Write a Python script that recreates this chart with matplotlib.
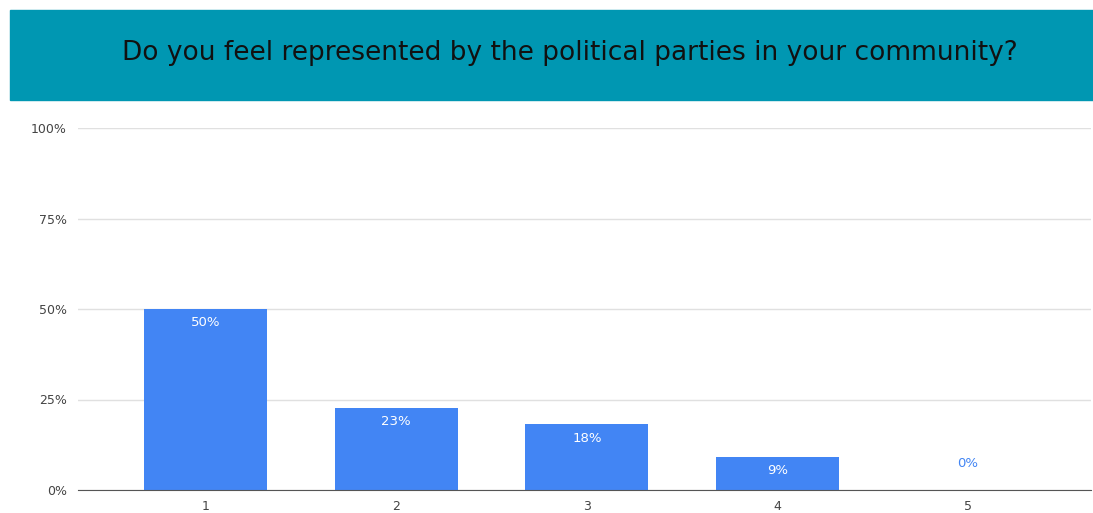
import matplotlib.pyplot as plt
from matplotlib.patches import Rectangle

# survey answers on a 1-5 scale, share of respondents in percent
categories = ['1', '2', '3', '4', '5']
shares = [50.0, 22.7, 18.2, 9.1, 0.0]
labels = ['50%', '23%', '18%', '9%', '0%']
yticks = [0, 25, 50, 75, 100]
title = 'Do you feel represented by the political parties in your community?'

W, H = 1093, 513
fig = plt.figure(figsize=(W / 100, H / 100), dpi=100)

# teal banner with the question
fig.patches.append(Rectangle((10 / W, 1 - 100 / H), 1 - 10 / W, 90 / H,
                             transform=fig.transFigure, color='#0097b2', zorder=0))
fig.text(570 / W, 1 - 53 / H, title, ha='center', va='center', fontsize=19,
         color='#111111', family=['DejaVu Sans'])

ax = fig.add_axes([78 / W, 23 / H, 1013 / W, 362 / H])
x = range(len(categories))
bars = ax.bar(x, shares, width=0.645, color='#4285f4', zorder=2)

ax.set_xlim(-0.67, 4.645)
ax.set_ylim(0, 100)
ax.set_yticks(yticks)
ax.set_yticklabels([f'{v}%' for v in yticks])
ax.set_xticks(list(x))
ax.set_xticklabels(categories)
ax.tick_params(length=0, labelsize=9, colors='#444444')
ax.tick_params(axis='y', pad=8)
ax.tick_params(axis='x', pad=7)
ax.grid(axis='y', color='#e0e0e0', linewidth=1, zorder=0)
for s in ['top', 'right', 'left']:
    ax.spines[s].set_visible(False)
ax.spines['bottom'].set_color('#555555')
ax.spines['bottom'].set_zorder(3)

for b, v, lab in zip(bars, shares, labels):
    cx = b.get_x() + b.get_width() / 2
    if v > 0:
        ax.annotate(lab, (cx, v), xytext=(0, -10), textcoords='offset points',
                    ha='center', va='center', color='white', fontsize=9.5)
    else:
        ax.annotate(lab, (cx, v), xytext=(0, 19), textcoords='offset points',
                    ha='center', va='center', color='#4285f4', fontsize=9.5)

fig.savefig('out.png', dpi=100)
